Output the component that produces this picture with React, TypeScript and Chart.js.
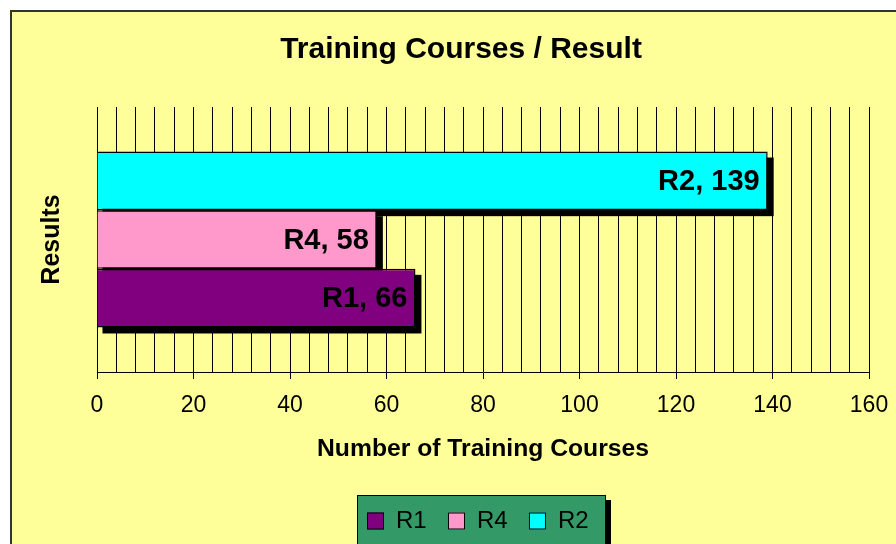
import React, { useEffect, useRef } from 'react';
import { Chart, registerables } from 'chart.js';

Chart.register(...registerables);

// ---- data ----
const categories = ['Results'];
const seriesNames = ['R1', 'R4', 'R2'];
const seriesValues = [66, 58, 139];
const seriesColors = ['#800080', '#FF99CC', '#00FFFF'];
const chartTitle = 'Training Courses / Result';
const xAxisTitle = 'Number of Training Courses';
const yAxisTitle = 'Results';
const xMin = 0;
const xMax = 160;
const xGridStep = 4;
const xLabelStep = 20;

const FONT = "'Liberation Sans', Arial, Helvetica, sans-serif";
const W = 920;
const H = 570;

const backgroundPlugin = {
  id: 'bgPlugin',
  beforeDraw(chart: any) {
    const ctx = chart.ctx;
    ctx.save();
    ctx.fillStyle = '#FFFFFF';
    ctx.fillRect(0, 0, chart.width, chart.height);
    ctx.fillStyle = '#FFFF99';
    ctx.fillRect(10, 10, 902, chart.height - 14);
    ctx.strokeStyle = '#333333';
    ctx.lineWidth = 2;
    ctx.strokeRect(11, 11, 900, chart.height - 16);
    ctx.restore();
  },
};

const shadowPlugin = {
  id: 'barShadow',
  beforeDatasetsDraw(chart: any) {
    const ctx = chart.ctx;
    ctx.save();
    ctx.fillStyle = '#000000';
    chart.data.datasets.forEach((_ds: any, i: number) => {
      const meta = chart.getDatasetMeta(i);
      meta.data.forEach((el: any) => {
        const p = el.getProps(['x', 'y', 'base', 'height'], true);
        const left = Math.min(p.x, p.base);
        const right = Math.max(p.x, p.base);
        ctx.fillRect(left + 5, p.y - p.height / 2 + 6, right - left + 1, p.height);
      });
    });
    ctx.restore();
  },
};

const labelPlugin = {
  id: 'barLabels',
  afterDatasetsDraw(chart: any) {
    const ctx = chart.ctx;
    ctx.save();
    ctx.font = `bold 29px ${FONT}`;
    ctx.textAlign = 'right';
    ctx.textBaseline = 'middle';
    ctx.fillStyle = '#000000';
    chart.data.datasets.forEach((ds: any, i: number) => {
      const meta = chart.getDatasetMeta(i);
      meta.data.forEach((el: any, j: number) => {
        const p = el.getProps(['x', 'y'], true);
        ctx.fillText(`${ds.label}, ${ds.data[j]}`, p.x - 8, p.y + 1);
      });
    });
    ctx.restore();
  },
};

const legendPlugin = {
  id: 'boxLegend',
  afterDraw(chart: any) {
    const ctx = chart.ctx;
    const area = chart.chartArea;
    const boxW = 248;
    const boxH = 80;
    const cx = (area.left + area.right) / 2 - 2;
    const boxLeft = Math.round(cx - boxW / 2);
    const boxTop = 495;
    ctx.save();
    ctx.fillStyle = '#000000';
    ctx.fillRect(boxLeft + 6, boxTop + 5, boxW, boxH);
    ctx.fillStyle = '#339966';
    ctx.fillRect(boxLeft, boxTop, boxW, boxH);
    ctx.strokeStyle = '#000000';
    ctx.lineWidth = 1;
    ctx.strokeRect(boxLeft + 0.5, boxTop + 0.5, boxW, boxH);

    ctx.font = `24px ${FONT}`;
    ctx.textAlign = 'left';
    ctx.textBaseline = 'middle';
    let x = boxLeft + 10;
    const sq = 17;
    const itemY = 521;
    seriesNames.forEach((name, i) => {
      ctx.fillStyle = seriesColors[i];
      ctx.fillRect(x, itemY - sq / 2, sq, sq);
      ctx.strokeStyle = '#000000';
      ctx.strokeRect(x + 0.5, itemY - sq / 2 + 0.5, sq - 1, sq - 1);
      ctx.fillStyle = '#000000';
      ctx.fillText(name, x + 29, itemY);
      const tw = ctx.measureText(name).width;
      x += 29 + tw + 21.3;
    });
    ctx.restore();
  },
};

export default function App() {
  const canvasRef = useRef<HTMLCanvasElement | null>(null);

  useEffect(() => {
    if (!canvasRef.current) return;
    // top bar first: chart draws dataset 0 at the top of the category band
    const order = [2, 1, 0];
    const datasets = order.map((i) => ({
      label: seriesNames[i],
      data: [seriesValues[i]],
      backgroundColor: seriesColors[i],
      borderColor: '#000000',
      borderWidth: 1.5,
      categoryPercentage: 0.664,
      barPercentage: 1,
    }));

    const chart = new Chart(canvasRef.current, {
      type: 'bar',
      data: { labels: categories, datasets },
      options: {
        indexAxis: 'y',
        animation: false,
        responsive: false,
        devicePixelRatio: 1,
        events: [],
        layout: { padding: { left: 10, top: 10, right: 8, bottom: 105.96 } },
        plugins: {
          legend: { display: false },
          tooltip: { enabled: false },
          title: {
            display: true,
            text: chartTitle,
            color: '#000000',
            font: { family: FONT, size: 30, weight: 'bold' },
            padding: { top: 21.7, bottom: 39.3 },
          },
        },
        scales: {
          x: {
            type: 'linear',
            min: xMin,
            max: xMax,
            grid: {
              display: true,
              color: '#000000',
              lineWidth: 1,
              drawTicks: true,
              tickLength: 7,
              tickColor: (c: any) =>
                c.tick && c.tick.value % xLabelStep === 0 ? '#000000' : 'rgba(0,0,0,0)',
            },
            border: { display: true, color: '#000000', width: 1 },
            ticks: {
              stepSize: xGridStep,
              autoSkip: false,
              maxRotation: 0,
              minRotation: 0,
              padding: 13.2,
              color: '#000000',
              font: { family: FONT, size: 23 },
              callback: (v: any) => (Number(v) % xLabelStep === 0 ? String(v) : ''),
            },
            title: {
              display: true,
              text: xAxisTitle,
              color: '#000000',
              font: { family: FONT, size: 24.7, weight: 'bold' },
              padding: { top: 1.4, bottom: 0 },
            },
          },
          y: {
            type: 'category',
            grid: { display: false, drawTicks: false, tickLength: 0 },
            border: { display: false },
            ticks: { display: false },
            title: {
              display: true,
              text: yAxisTitle,
              color: '#000000',
              font: { family: FONT, size: 25, weight: 'bold' },
              padding: { top: 27.5, bottom: 29.5 },
            },
          },
          yR: {
            type: 'linear',
            position: 'right',
            display: true,
            grid: { display: false, drawTicks: false, tickLength: 0 },
            border: { display: false },
            ticks: { display: false },
            afterFit: (s: any) => {
              s.width = 43;
            },
          },
        },
      } as any,
      plugins: [backgroundPlugin, shadowPlugin, labelPlugin, legendPlugin],
    });
    return () => chart.destroy();
  }, []);

  return (
    <div
      style={{
        position: 'fixed',
        left: 0,
        top: 0,
        width: 896,
        height: 544,
        overflow: 'hidden',
        background: '#FFFFFF',
      }}
    >
      <canvas
        ref={canvasRef}
        width={W}
        height={H}
        style={{ display: 'block', position: 'absolute', left: 0, top: 0, width: W, height: H }}
      />
    </div>
  );
}
